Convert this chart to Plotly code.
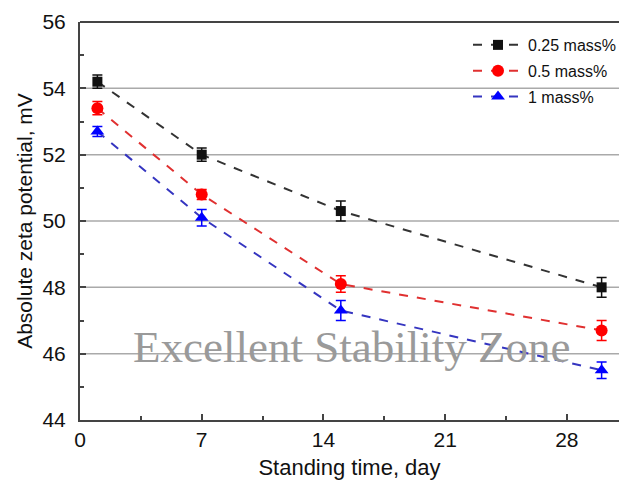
import plotly.graph_objects as go

# Standing time (days) and absolute zeta potential (mV) for each loading
days = [1, 7, 15, 30]
zeta_025 = [54.2, 52.0, 50.3, 48.0]
err_025 = [0.2, 0.2, 0.3, 0.3]
zeta_05 = [53.4, 50.8, 48.1, 46.7]
err_05 = [0.2, 0.15, 0.25, 0.3]
zeta_1 = [52.7, 50.1, 47.3, 45.5]
err_1 = [0.15, 0.25, 0.3, 0.25]

series_names = ["0.25 mass%", "0.5 mass%", "1 mass%"]
x_ticks = [0, 7, 14, 21, 28]
y_ticks = [44, 46, 48, 50, 52, 54, 56]

styles = [
    ("#111111", "square", 10),
    ("#ff0000", "circle", 12),
    ("#0000ff", "triangle-up", 12),
]
line_colors = ["#333333", "#e03030", "#3535c0"]

fig = go.Figure()
for i, (name, ys, es, (col, sym, sz), lc) in enumerate(zip(
    series_names, [zeta_025, zeta_05, zeta_1], [err_025, err_05, err_1], styles, line_colors
)):
    fig.add_trace(go.Scatter(
        x=days, y=ys, name=name, mode="lines+markers", legendgroup=f"g{i}",
        line=dict(color=lc, dash="dash", width=2),
        marker=dict(color=col, symbol=sym, size=sz),
        error_y=dict(type="data", array=es, visible=True, color=col, thickness=1.5, width=5),
    ))

# Horizontal reference lines
for yv in y_ticks[1:-1]:
    fig.add_shape(type="line", xref="paper", x0=0, x1=1, y0=yv, y1=yv,
                  line=dict(color="#aaaaaa", width=1.5), layer="below")

fig.add_annotation(
    text="Excellent Stability Zone", x=15.6, y=46.2, xref="x", yref="y",
    showarrow=False, font=dict(family="Liberation Serif", size=45, color="#9a9a9a"),
)

fig.update_layout(
    width=622, height=482,
    margin=dict(l=80, r=0, t=22, b=62),
    paper_bgcolor="white", plot_bgcolor="white",
    font=dict(family="Liberation Sans", size=21, color="#111111"),
    showlegend=True,
    legend=dict(x=0.72, y=0.985, xanchor="left", yanchor="top",
                bgcolor="rgba(0,0,0,0)", font=dict(size=16), itemwidth=50,
                tracegroupgap=2),
    xaxis=dict(
        range=[0, 31], tickvals=x_ticks, ticks="inside", ticklen=6, tickwidth=2,
        showline=True, linecolor="#444444", linewidth=2, mirror=False,
        showgrid=False, zeroline=False,
        minor=dict(dtick=3.5, tick0=0, ticks="inside", ticklen=4, tickcolor="#444444"),
        title=dict(text="Standing time, day", font=dict(size=22), standoff=9),
    ),
    yaxis=dict(
        range=[44, 56], tickvals=y_ticks, ticks="inside", ticklen=6, tickwidth=2,
        ticklabelstandoff=8,
        showline=True, linecolor="#444444", linewidth=2, mirror=False,
        showgrid=False, zeroline=False,
        minor=dict(dtick=1, tick0=44, ticks="inside", ticklen=4, tickcolor="#444444"),
        title=dict(text="Absolute zeta potential, mV", font=dict(size=21), standoff=4),
    ),
)

# Top frame line
fig.add_shape(type="line", xref="paper", yref="paper", x0=0, x1=1, y0=1, y1=1,
              line=dict(color="#444444", width=2))

fig.write_html("out.html")
